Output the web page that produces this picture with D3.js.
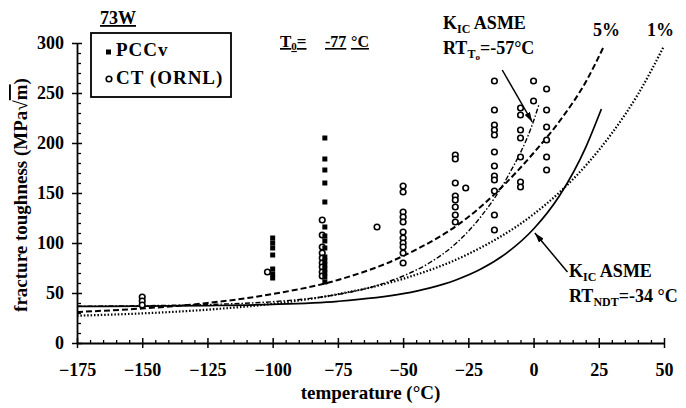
<!DOCTYPE html>
<html>
<head>
<meta charset="utf-8">
<script src="https://cdn.jsdelivr.net/npm/d3@7"></script>
<style>
  body { margin: 0; background: #fff; }
  svg { font-family: "Liberation Serif", "Times New Roman", serif; font-weight: bold; }
</style>
</head>
<body>
<div id="chart"></div>
<script>
// axis ticks
const tempTicks = [-175, -150, -125, -100, -75, -50, -25, 0, 25, 50];
const toughTicks = [0, 50, 100, 150, 200, 250, 300];

// PCCv data (filled squares), one column per test temperature
const pccvTemp = [-100, -80];
const pccvK = [
  [105, 100, 95, 88, 74, 69, 65],
  [205, 184, 173, 160, 141, 116, 107, 102, 95, 86, 82, 78, 74, 70, 66, 61]
];

// CT (ORNL) data (open circles)
const ctTemp = [-150, -102, -81, -60, -50, -30, -26, -15, -5, 0, 5];
const ctK = [
  [46, 42, 38],
  [71],
  [123, 108, 96, 90, 85, 80, 76, 71, 67],
  [116],
  [157, 151, 131, 126, 121, 111, 105, 100, 96, 90, 80],
  [188, 184, 160, 147, 143, 136, 128, 121],
  [155],
  [262, 233, 218, 213, 208, 191, 177, 167, 163, 152, 128, 113],
  [235, 228, 213, 205, 186, 161, 156],
  [262, 242],
  [254, 233, 216, 203, 186, 173]
];

// KIC ASME curve, RTNDT = -34 C (solid)
const asmeNdtT = [-175, -150, -125, -100, -75, -50, -40, -30, -20, -10, 0, 10, 20, 26];
const asmeNdtK = [36.6, 36.9, 37.4, 38.6, 41.7, 49.3, 54.9, 62.8, 74.2, 90.6, 114, 147.5, 195.7, 234];

// KIC ASME curve, RTTo = -57 C (dash-dot)
const asmeToT = [-175, -150, -125, -100, -75, -60, -50, -40, -30, -20, -10, 0, 2];
const asmeToK = [36.8, 37.3, 38.5, 41.3, 48.6, 57.5, 67, 80, 99, 127, 166, 222, 238];

// 5% tolerance bound (dashed)
const p5T = [-175, -150, -125, -100, -75, -50, -25, 0, 10, 20, 27];
const p5K = [31, 34.5, 40, 49, 63, 87, 126, 190, 222, 261, 297];

// 1% tolerance bound (dotted)
const p1T = [-175, -150, -125, -100, -75, -50, -25, 0, 10, 20, 30, 40, 50];
const p1K = [27.3, 29.6, 33.3, 39.2, 48.8, 64.2, 89, 128.8, 150.8, 177.4, 209.7, 248.6, 297];

const width = 686, height = 408;

const svg = d3.select("#chart").append("svg")
    .attr("width", width)
    .attr("height", height);

const x = d3.scaleLinear().domain([-175, 50]).range([77, 664]);
const y = d3.scaleLinear().domain([0, 300]).range([343, 43]);

svg.append("defs").append("marker")
    .attr("id", "head")
    .attr("viewBox", "0 0 10 6")
    .attr("refX", 10)
    .attr("refY", 3)
    .attr("markerWidth", 10)
    .attr("markerHeight", 6)
    .attr("markerUnits", "userSpaceOnUse")
    .attr("orient", "auto")
  .append("path")
    .attr("d", "M0,0 L10,3 L0,6 Z")
    .attr("fill", "black");

// x axis
svg.append("g")
    .attr("transform", "translate(0," + y(0) + ")")
    .call(d3.axisBottom(x).tickValues(tempTicks).tickSize(5).tickSizeOuter(0).tickPadding(15))
    .attr("font-family", null)
    .attr("font-size", 18)
    .call(g => g.select(".domain").attr("stroke-width", 1.8))
    .call(g => g.selectAll(".tick line").attr("y1", -5).attr("stroke-width", 1.5));

svg.append("g")
    .attr("transform", "translate(0," + y(0) + ")")
    .call(d3.axisTop(x).tickValues(d3.range(-175, 51, 5).filter(d => d % 25 != 0)).tickSize(3).tickFormat(""))
    .call(g => g.select(".domain").remove())
    .call(g => g.selectAll(".tick line").attr("stroke-width", 1.3));

// y axis
svg.append("g")
    .attr("transform", "translate(" + x(-175) + ",0)")
    .call(d3.axisLeft(y).tickValues(toughTicks).tickSize(5).tickSizeOuter(0).tickPadding(8))
    .attr("font-family", null)
    .attr("font-size", 18)
    .call(g => g.select(".domain").attr("stroke-width", 1.8))
    .call(g => g.selectAll(".tick line").attr("x1", 5).attr("stroke-width", 1.5));

svg.append("g")
    .attr("transform", "translate(" + x(-175) + ",0)")
    .call(d3.axisRight(y).tickValues(d3.range(0, 301, 10).filter(d => d % 50 != 0)).tickSize(4).tickFormat(""))
    .call(g => g.select(".domain").remove())
    .call(g => g.selectAll(".tick line").attr("stroke-width", 1.3));

// axis titles
svg.append("text")
    .attr("x", (x(-175) + x(50)) / 2)
    .attr("y", 399)
    .attr("text-anchor", "middle")
    .attr("font-size", 19)
    .text("temperature (°C)");

const ylab = svg.append("text")
    .attr("transform", "translate(27,195) rotate(-90)")
    .attr("text-anchor", "middle")
    .attr("font-size", 19);
ylab.append("tspan").text("fracture toughness (MPa√");
ylab.append("tspan").style("text-decoration", "overline").text("m");
ylab.append("tspan").text(")");

// curves
const line = d3.line()
    .x(d => x(d[0]))
    .y(d => y(d[1]))
    .curve(d3.curveMonotoneX);

const curves = [
  {t: p1T, k: p1K, dash: "1.5,1.9", w: 2.2},
  {t: p5T, k: p5K, dash: "6,3", w: 2},
  {t: asmeToT, k: asmeToK, dash: "5,2,1.5,2", w: 1.4},
  {t: asmeNdtT, k: asmeNdtK, dash: null, w: 1.7}
];

svg.selectAll("path.curve")
  .data(curves)
  .join("path")
    .attr("class", "curve")
    .attr("fill", "none")
    .attr("stroke", "black")
    .attr("stroke-width", d => d.w)
    .attr("stroke-dasharray", d => d.dash)
    .attr("d", d => line(d3.zip(d.t, d.k)));

// data points
const ctPts = ctTemp.flatMap((t, i) => ctK[i].map(k => [t, k]));
const pccvPts = pccvTemp.flatMap((t, i) => pccvK[i].map(k => [t, k]));

svg.selectAll("circle.ct")
  .data(ctPts)
  .join("circle")
    .attr("class", "ct")
    .attr("cx", d => x(d[0]))
    .attr("cy", d => y(d[1]))
    .attr("r", 2.8)
    .attr("fill", "white")
    .attr("stroke", "black")
    .attr("stroke-width", 1.6);

svg.selectAll("rect.pccv")
  .data(pccvPts)
  .join("rect")
    .attr("class", "pccv")
    .attr("x", d => x(d[0]) - 2.5)
    .attr("y", d => y(d[1]) - 2.5)
    .attr("width", 5)
    .attr("height", 5)
    .attr("fill", "black");

// legend
svg.append("text")
    .attr("x", 100).attr("y", 24)
    .attr("font-size", 18)
    .style("text-decoration", "underline")
    .text("73W");

svg.append("rect")
    .attr("x", 91).attr("y", 33)
    .attr("width", 140).attr("height", 64)
    .attr("fill", "none")
    .attr("stroke", "black")
    .attr("stroke-width", 1.8);

svg.append("rect")
    .attr("x", 106).attr("y", 49.5)
    .attr("width", 5).attr("height", 5)
    .attr("fill", "black");
svg.append("text")
    .attr("x", 116).attr("y", 56)
    .attr("font-size", 19)
    .attr("letter-spacing", 1)
    .text("PCCv");

svg.append("circle")
    .attr("cx", 109).attr("cy", 79)
    .attr("r", 2.8)
    .attr("fill", "white")
    .attr("stroke", "black")
    .attr("stroke-width", 1.6);
svg.append("text")
    .attr("x", 116).attr("y", 84)
    .attr("font-size", 19)
    .attr("letter-spacing", 1)
    .text("CT (ORNL)");

// T0 note
const t0 = svg.append("text")
    .attr("x", 280).attr("y", 47)
    .attr("font-size", 17)
    .style("text-decoration", "underline");
t0.append("tspan").text("T");
t0.append("tspan").attr("font-size", 11).attr("dy", 3).text("0");
t0.append("tspan").attr("dy", -3).text("=");

svg.append("text")
    .attr("x", 325).attr("y", 47)
    .attr("font-size", 16)
    .style("text-decoration", "underline")
    .text("-77");
svg.append("text")
    .attr("x", 351).attr("y", 47)
    .attr("font-size", 16)
    .style("text-decoration", "underline")
    .text("°C");

// upper KIC note
const k1 = svg.append("text")
    .attr("x", 443).attr("y", 29)
    .attr("font-size", 18);
k1.append("tspan").text("K");
k1.append("tspan").attr("font-size", 12).attr("dy", 4).text("IC");
k1.append("tspan").attr("dy", -4).text(" ASME");

const r1 = svg.append("text")
    .attr("x", 443).attr("y", 54)
    .attr("font-size", 18);
r1.append("tspan").text("RT");
r1.append("tspan").attr("font-size", 12).attr("dy", 4).text("T");
r1.append("tspan").attr("font-size", 9).attr("dy", 2).text("o");
r1.append("tspan").attr("dy", -6).text("=-57°C");

svg.append("text").attr("x", 593).attr("y", 36).attr("font-size", 18).text("5%");
svg.append("text").attr("x", 647).attr("y", 36).attr("font-size", 18).text("1%");

// lower KIC note
const k2 = svg.append("text")
    .attr("x", 569).attr("y", 277)
    .attr("font-size", 18);
k2.append("tspan").text("K");
k2.append("tspan").attr("font-size", 12).attr("dy", 4).text("IC");
k2.append("tspan").attr("dy", -4).text(" ASME");

const r2 = svg.append("text")
    .attr("x", 569).attr("y", 302)
    .attr("font-size", 18);
r2.append("tspan").text("RT");
r2.append("tspan").attr("font-size", 12).attr("dy", 4).text("NDT");
r2.append("tspan").attr("dy", -4).text("=-34 °C");

// arrows
const arrows = [
  {from: [-12, 273], to: [-0.5, 221]},
  {from: [13, 71], to: [0.5, 110]}
];
svg.selectAll("line.arrow")
  .data(arrows)
  .join("line")
    .attr("class", "arrow")
    .attr("x1", d => x(d.from[0]))
    .attr("y1", d => y(d.from[1]))
    .attr("x2", d => x(d.to[0]))
    .attr("y2", d => y(d.to[1]))
    .attr("stroke", "black")
    .attr("stroke-width", 1.5)
    .attr("marker-end", "url(#head)");
</script>
</body>
</html>
